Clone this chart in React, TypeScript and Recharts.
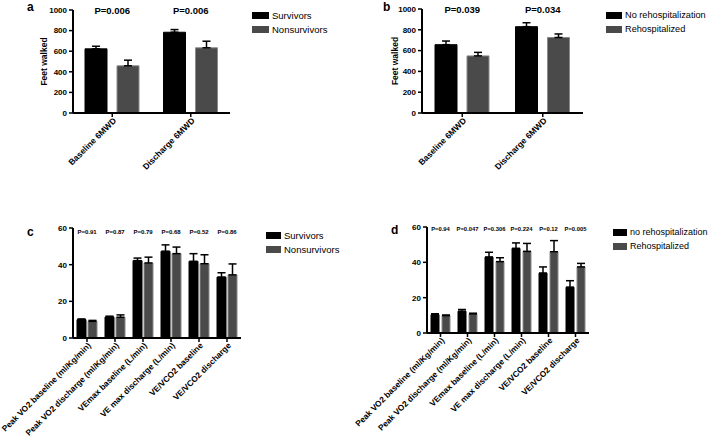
import { BarChart, Bar, XAxis, YAxis, ErrorBar, Legend } from 'recharts';

// 6MWD panels (a, b)
const WALK_CATS = ['Baseline 6MWD', 'Discharge 6MWD'];
const SURV_WALK = [623, 784];
const SURV_WALK_ERR = [25, 26];
const NONSURV_WALK = [458, 633];
const NONSURV_WALK_ERR = [55, 64];
const SURV_WALK_P = ['P=0.006', 'P=0.006'];

const NOREHOSP_WALK = [657, 830];
const NOREHOSP_WALK_ERR = [35, 38];
const REHOSP_WALK = [549, 726];
const REHOSP_WALK_ERR = [34, 34];
const REHOSP_WALK_P = ['P=0.039', 'P=0.034'];

// CPX panels (c, d)
const CPX_CATS = [
  'Peak VO2 baseline (ml/Kg/min)',
  'Peak VO2 discharge (ml/Kg/min)',
  'VEmax baseline (L/min)',
  'VE max discharge (L/min)',
  'VE/VCO2 baseline',
  'VE/VCO2 discharge',
];
const SURV_CPX = [10, 11.4, 42.2, 47.3, 41.8, 33.2];
const SURV_CPX_ERR = [0.4, 0.5, 1.4, 3.5, 4.2, 2.4];
const NONSURV_CPX = [9.1, 11.3, 40.9, 46, 40.5, 34.4];
const NONSURV_CPX_ERR = [0.5, 1.3, 3.2, 3.6, 4.9, 6];
const SURV_CPX_P = ['P=0.91', 'P=0.87', 'P=0.79', 'P=0.68', 'P=0.52', 'P=0.86'];

const NOREHOSP_CPX = [10.4, 12.3, 43, 47.9, 33.9, 25.9];
const NOREHOSP_CPX_ERR = [0.5, 1, 2.7, 3.1, 3.5, 3.7];
const REHOSP_CPX = [9.8, 10.8, 40.4, 46.2, 46, 37.4];
const REHOSP_CPX_ERR = [0.4, 0.4, 2.2, 4.5, 6.3, 2];
const REHOSP_CPX_P = ['P=0.94', 'P=0.047', 'P=0.306', 'P=0.224', 'P=0.12', 'P=0.005'];

const WALK_TICKS = [0, 200, 400, 600, 800, 1000];
const CPX_TICKS = [0, 20, 40, 60];

const FONT = '"Liberation Sans", Arial, sans-serif';
const BLACK = '#000000';
const GREY = '#4a4a4a';

const AngledTick = (props: any) => {
  const { x, y, payload, size } = props;
  return (
    <text
      x={x}
      y={y}
      dy={size * 0.55}
      dx={size * 0.2}
      transform={`rotate(-45 ${x} ${y})`}
      textAnchor="end"
      fontSize={size}
      fontWeight="bold"
      fontFamily={FONT}
      fill="#000"
    >
      {payload.value}
    </text>
  );
};

const PTick = (props: any) => {
  const { x, y, index, labels, size, shift } = props;
  return (
    <text
      x={x}
      y={y + shift}
      textAnchor="middle"
      fontSize={size}
      fontWeight="bold"
      fontFamily={FONT}
      fill="#000"
    >
      {labels[index]}
    </text>
  );
};

// legend keeps the series order (recharts would sort it by name)
const makeLegend = (names: string[], size: number, swatch: number) => () => (
  <div style={{ fontFamily: FONT, fontSize: size, color: '#000', whiteSpace: 'nowrap' }}>
    {names.map((name, i) => (
      <div key={name} style={{ display: 'flex', alignItems: 'center', height: 14 }}>
        <span
          style={{
            width: swatch, height: 7, background: i === 0 ? BLACK : GREY, marginRight: 3, display: 'inline-block',
          }}
        />
        <span>{name}</span>
      </div>
    ))}
  </div>
);

function Panel(props: any) {
  const {
    cats, a, aErr, b, bErr, p, names, box, margin, yMax, yTicks, yLabel, labelOffset,
    barSize, barGap, tickFont, pFont, pShift, xHeight, legendPos, legendFont, swatch, letter, letterPos,
  } = props;
  const data = cats.map((cat: string, i: number) => ({
    cat,
    a: a[i],
    aErr: [0, aErr[i]],
    b: b[i],
    bErr: [0, bErr[i]],
  }));
  return (
    <div style={{ position: 'absolute', left: box.left, top: box.top, width: box.width, height: box.height }}>
      <div
        style={{
          position: 'absolute', left: letterPos.left, top: letterPos.top, fontFamily: FONT,
          fontWeight: 'bold', fontSize: 12, lineHeight: 1, zIndex: 2,
        }}
      >
        {letter}
      </div>
      <BarChart width={box.width} height={box.height} data={data} margin={margin} barSize={barSize} barGap={barGap}>
        <XAxis
          dataKey="cat"
          interval={0}
          height={xHeight}
          axisLine={{ stroke: '#000', strokeWidth: 2 }}
          tickLine={{ stroke: '#000', strokeWidth: 1.5 }}
          tickSize={4}
          tickMargin={2}
          tick={<AngledTick size={tickFont} />}
        />
        <XAxis
          xAxisId="p"
          dataKey="cat"
          orientation="top"
          interval={0}
          height={1}
          axisLine={false}
          tickLine={false}
          tickSize={0}
          tickMargin={0}
          tick={<PTick labels={p} size={pFont} shift={pShift} />}
        />
        <YAxis
          width={30}
          domain={[0, yMax]}
          ticks={yTicks}
          interval={0}
          axisLine={{ stroke: '#000', strokeWidth: 2 }}
          tickLine={{ stroke: '#000', strokeWidth: 1.5 }}
          tickSize={4}
          tickMargin={2}
          tick={{ fontSize: 8, fontWeight: 'bold', fill: '#000', fontFamily: FONT }}
          label={
            yLabel
              ? {
                  value: yLabel,
                  angle: -90,
                  position: 'insideLeft',
                  offset: labelOffset,
                  style: { textAnchor: 'middle', fontSize: 8.5, fontWeight: 'bold', fill: '#000', fontFamily: FONT },
                }
              : undefined
          }
        />
        <Legend
          layout="vertical"
          align="center"
          verticalAlign="middle"
          content={makeLegend(names, legendFont, swatch)}
          wrapperStyle={{ left: legendPos.left, top: legendPos.top, width: 'auto' }}
        />
        <Bar dataKey="a" name={names[0]} fill={BLACK} stroke="#000" strokeWidth={1} isAnimationActive={false}>
          <ErrorBar dataKey="aErr" direction="y" width={4} stroke="#000" strokeWidth={1.5} />
        </Bar>
        <Bar dataKey="b" name={names[1]} fill={GREY} stroke="#8a8a8a" strokeWidth={1} isAnimationActive={false}>
          <ErrorBar dataKey="bErr" direction="y" width={4} stroke="#000" strokeWidth={1.5} />
        </Bar>
      </BarChart>
    </div>
  );
}

export default function App() {
  return (
    <div style={{ position: 'absolute', left: 0, top: 0, width: 710, height: 438, background: '#fff', fontFamily: FONT }}>
      <Panel
        cats={WALK_CATS} a={SURV_WALK} aErr={SURV_WALK_ERR} b={NONSURV_WALK} bErr={NONSURV_WALK_ERR}
        p={SURV_WALK_P} names={['Survivors', 'Nonsurvivors']}
        box={{ left: 0, top: 0, width: 355, height: 215 }}
        margin={{ top: 9, right: 125, left: 43, bottom: 2 }}
        yMax={1000} yTicks={WALK_TICKS} yLabel="Feet walked" labelOffset={1}
        barSize={22} barGap={10} tickFont={8.5} pFont={9.5} pShift={4} xHeight={100}
        legendPos={{ left: 252, top: 8 }} legendFont={9.5} swatch={17}
        letter="a" letterPos={{ left: 27, top: 1 }}
      />
      <Panel
        cats={WALK_CATS} a={NOREHOSP_WALK} aErr={NOREHOSP_WALK_ERR} b={REHOSP_WALK} bErr={REHOSP_WALK_ERR}
        p={REHOSP_WALK_P} names={['No rehospitalization', 'Rehospitalized']}
        box={{ left: 355, top: 0, width: 355, height: 215 }}
        margin={{ top: 8, right: 127, left: 37, bottom: 2 }}
        yMax={1000} yTicks={WALK_TICKS} yLabel="Feet walked" labelOffset={3}
        barSize={22} barGap={10} tickFont={8.5} pFont={9.5} pShift={4} xHeight={100}
        legendPos={{ left: 251, top: 8 }} legendFont={9.2} swatch={16}
        letter="b" letterPos={{ left: 28, top: 1 }}
      />
      <Panel
        cats={CPX_CATS} a={SURV_CPX} aErr={SURV_CPX_ERR} b={NONSURV_CPX} bErr={NONSURV_CPX_ERR}
        p={SURV_CPX_P} names={['Survivors', 'Nonsurvivors']}
        box={{ left: 0, top: 215, width: 345, height: 223 }}
        margin={{ top: 12, right: 104, left: 43, bottom: 0 }}
        yMax={60} yTicks={CPX_TICKS}
        barSize={9} barGap={2} tickFont={8.3} pFont={6} pShift={6} xHeight={100}
        legendPos={{ left: 266, top: 13 }} legendFont={9.5} swatch={15}
        letter="c" letterPos={{ left: 27, top: 11 }}
      />
      <Panel
        cats={CPX_CATS} a={NOREHOSP_CPX} aErr={NOREHOSP_CPX_ERR} b={REHOSP_CPX} bErr={REHOSP_CPX_ERR}
        p={REHOSP_CPX_P} names={['no rehospitalization', 'Rehospitalized']}
        box={{ left: 345, top: 215, width: 365, height: 223 }}
        margin={{ top: 11, right: 121, left: 52, bottom: 0 }}
        yMax={60} yTicks={CPX_TICKS}
        barSize={8} barGap={3} tickFont={8.3} pFont={5.8} pShift={4} xHeight={105}
        legendPos={{ left: 268, top: 10 }} legendFont={9} swatch={14}
        letter="d" letterPos={{ left: 46, top: 9 }}
      />
    </div>
  );
}
